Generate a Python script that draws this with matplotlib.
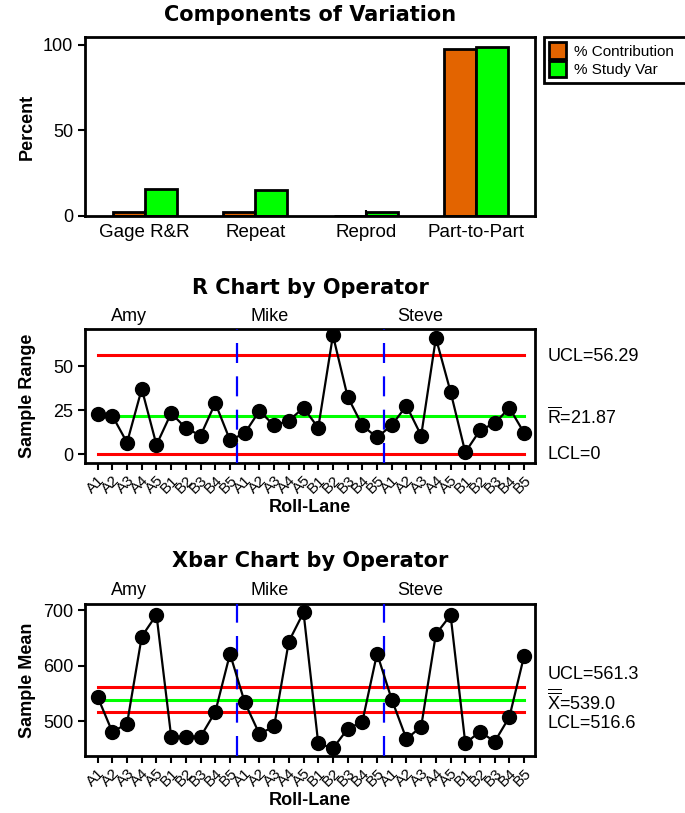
import matplotlib
matplotlib.use("Agg")
import matplotlib.pyplot as plt
from matplotlib.patches import Patch
from matplotlib import font_manager

# pick a narrow sans if present
names = {f.name for f in font_manager.fontManager.ttflist}
NARROW = "Liberation Sans Narrow" if "Liberation Sans Narrow" in names else "Liberation Sans"
plt.rcParams["font.family"] = [NARROW, "DejaVu Sans"]
plt.rcParams["mathtext.fontset"] = "custom"
plt.rcParams["mathtext.rm"] = NARROW
BOLD = "Liberation Sans"
TITLE = "DejaVu Sans"

# ---- data ----
components = ["Gage R&R", "Repeat", "Reprod", "Part-to-Part"]
pct_contribution = [2.4, 2.35, 0.05, 97.6]
pct_study_var = [15.5, 15.3, 2.3, 98.8]

operators = ["Amy", "Mike", "Steve"]
roll_lanes = ["A1", "A2", "A3", "A4", "A5", "B1", "B2", "B3", "B4", "B5"]

sample_range = [22.9, 21.8, 6.6, 37.1, 5.3, 23.3, 14.8, 10.6, 29.0, 8.0,
                11.9, 24.6, 16.3, 19.1, 26.3, 15.0, 67.5, 32.6, 16.3, 9.5,
                16.5, 27.5, 10.6, 66.0, 35.4, 1.1, 13.6, 17.6, 26.3, 12.1]
r_ucl, r_bar, r_lcl = 56.29, 21.87, 0.0

sample_mean = [543.8, 480.7, 495.8, 652.5, 691.6, 472.3, 472.3, 472.3, 516.8, 621.3,
               534.2, 477.1, 491.0, 643.5, 695.8, 460.3, 451.3, 486.1, 499.4, 621.9,
               539.0, 468.1, 490.4, 656.7, 691.0, 460.3, 481.3, 463.3, 507.8, 617.7]
x_ucl, x_bar, x_lcl = 561.3, 539.0, 516.6

ORANGE = "#e36400"
GREEN = "#00ff00"
W, H = 685, 813


def box(l, t, r, b):
    return [l / W, 1 - b / H, (r - l) / W, (b - t) / H]


def style_axes(ax):
    for s in ax.spines.values():
        s.set_linewidth(2)
        s.set_color("black")
    ax.tick_params(labelsize=13, width=1.5)


fig = plt.figure(figsize=(W / 100, H / 100), dpi=100)

# ---- Components of Variation ----
ax1 = fig.add_axes(box(85, 37, 535, 216))
style_axes(ax1)
xs = list(range(len(components)))
bw = 0.29
ax1.bar([x - bw / 2 for x in xs], pct_contribution, bw, color=ORANGE,
        edgecolor="black", linewidth=2, label="% Contribution")
ax1.bar([x + bw / 2 for x in xs], pct_study_var, bw, color=GREEN,
        edgecolor="black", linewidth=2, label="% Study Var")
ax1.set_xlim(-0.54, 3.53)
ax1.set_ylim(0, 104.5)
ax1.set_yticks([0, 50, 100])
ax1.set_xticks(xs)
ax1.set_xticklabels(components, fontsize=13.5)
ax1.tick_params(axis="x", direction="in", length=4, pad=6)
ax1.tick_params(axis="y", length=5)
fig.text(310 / W, 1 - 15 / H, "Components of Variation", ha="center", va="center",
         fontsize=15, fontweight="bold", family=TITLE)
fig.text(27 / W, 1 - 127 / H, "Percent", rotation=90, ha="center", va="center",
         fontsize=13, fontweight="bold", family=BOLD)
leg = fig.legend(handles=[Patch(facecolor=ORANGE, edgecolor="black", linewidth=2, label="% Contribution"),
                          Patch(facecolor=GREEN, edgecolor="black", linewidth=2, label="% Study Var")],
                 loc="upper left", bbox_to_anchor=(544 / W, 0, 150 / W, 1 - 37 / H),
                 mode="expand", fontsize=11, fancybox=False, edgecolor="black",
                 framealpha=1, handlelength=1.1, handleheight=1.3, handletextpad=0.5,
                 borderpad=0.35, labelspacing=0.1, borderaxespad=0)
leg.get_frame().set_linewidth(2)

idx = list(range(len(sample_range)))
tick_labels = roll_lanes * len(operators)
group_label_x = [2.1, 11.7, 21.9]
splits = [9.5, 19.5]


def control_chart(ax, values, ucl, center, lcl, ylim, yticks, texts, offsets):
    style_axes(ax)
    ax.plot([idx[0], idx[-1]], [ucl, ucl], color="red", lw=2.2, zorder=2)
    ax.plot([idx[0], idx[-1]], [lcl, lcl], color="red", lw=2.2, zorder=2)
    ax.plot([idx[0], idx[-1]], [center, center], color=GREEN, lw=2.2, zorder=2)
    for s in splits:
        ax.axvline(s, color="blue", lw=1.6, dashes=(9, 6), zorder=3)
    ax.plot(idx, values, color="black", lw=1.6, marker="o", markersize=10, zorder=4)
    ax.set_xlim(-0.86, 29.74)
    ax.set_ylim(*ylim)
    ax.set_yticks(yticks)
    ax.set_xticks(idx)
    ax.set_xticklabels(tick_labels, rotation=45, ha="right", rotation_mode="anchor",
                       fontsize=11)
    ax.tick_params(axis="x", length=5, pad=2)
    ax.tick_params(axis="y", length=5)
    for gx, name in zip(group_label_x, operators):
        ax.text(gx, 1.03, name, transform=ax.get_xaxis_transform(), ha="center",
                va="bottom", fontsize=13)
    for val, txt, off in zip([ucl, center, lcl], texts, offsets):
        ax.annotate(txt, xy=(1.027, val), xycoords=ax.get_yaxis_transform(),
                    xytext=(0, off), textcoords="offset points", ha="left",
                    va="center", fontsize=13, annotation_clip=False)


# ---- R chart ----
ax2 = fig.add_axes(box(85, 329, 535, 463))
control_chart(ax2, sample_range, r_ucl, r_bar, r_lcl, (-5, 71.1), [0, 25, 50],
              ["UCL=56.29", r"$\overline{\mathrm{R}}$=21.87", "LCL=0"], [-1, -1, 0])
fig.text(310 / W, 1 - 288 / H, "R Chart by Operator", ha="center", va="center",
         fontsize=15, fontweight="bold", family=TITLE)
fig.text(27 / W, 1 - 396 / H, "Sample Range", rotation=90, ha="center", va="center",
         fontsize=13, fontweight="bold", family=BOLD)
fig.text(310 / W, 1 - 507 / H, "Roll-Lane", ha="center", va="center",
         fontsize=13, fontweight="bold", family=BOLD)

# ---- Xbar chart ----
ax3 = fig.add_axes(box(85, 604, 535, 756))
control_chart(ax3, sample_mean, x_ucl, x_bar, x_lcl, (437.5, 711), [500, 600, 700],
              ["UCL=561.3", r"$\overline{\overline{\mathrm{X}}}$=539.0", "LCL=516.6"],
              [9, -1, -8])
fig.text(310 / W, 1 - 561 / H, "Xbar Chart by Operator", ha="center", va="center",
         fontsize=15, fontweight="bold", family=TITLE)
fig.text(27 / W, 1 - 680 / H, "Sample Mean", rotation=90, ha="center", va="center",
         fontsize=13, fontweight="bold", family=BOLD)
fig.text(310 / W, 1 - 800 / H, "Roll-Lane", ha="center", va="center",
         fontsize=13, fontweight="bold", family=BOLD)

fig.savefig("out.png", dpi=100)
